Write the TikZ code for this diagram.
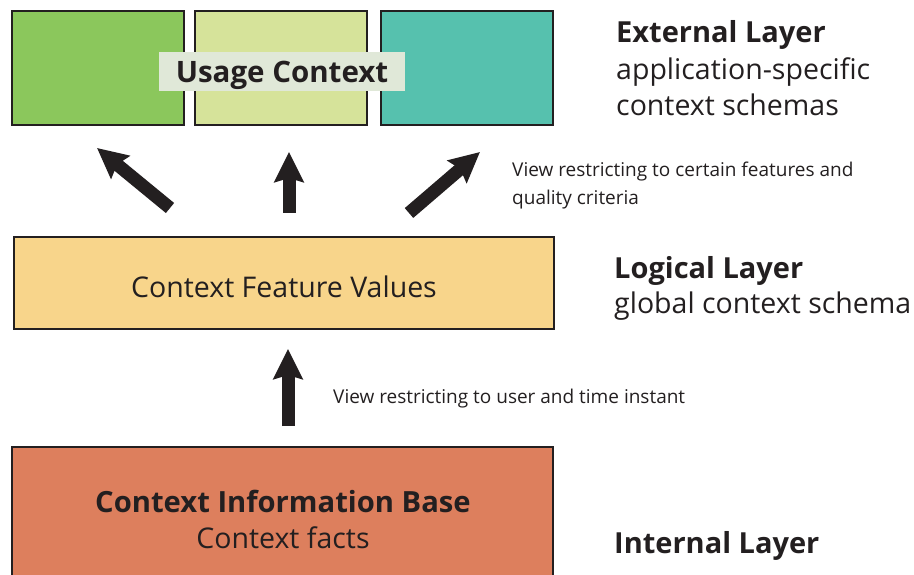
\documentclass[tikz,border=0pt]{standalone}
\usepackage{fontspec}
\setmainfont{Open Sans}
\usetikzlibrary{arrows.meta}

\definecolor{ink}{HTML}{231F20}
\definecolor{greenA}{HTML}{8BC75C}
\definecolor{greenB}{HTML}{D6E39A}
\definecolor{teal}{HTML}{56C1AE}
\definecolor{sand}{HTML}{F8D58B}
\definecolor{terra}{HTML}{DD7F5D}
\definecolor{patch}{HTML}{E0E8D8}

\newcommand{\fs}[1]{\fontsize{#1}{#1}\selectfont}

\tikzset{
  layerbox/.style={draw=ink, line width=1.6pt, inner sep=0pt},
  bigarrow/.style={draw=ink, line width=13pt,
    -{Stealth[length=30pt, width=29pt, inset=4pt]}},
  txt/.style={text=ink, inner sep=0pt},
  heading/.style={txt, anchor=base west, font=\fs{29}\bfseries},
  subline/.style={txt, anchor=base west, font=\fs{28.5}},
  note/.style={txt, anchor=base west, font=\fs{19}},
}

\begin{document}
\begin{tikzpicture}[x=1pt, y=-1pt]
\clip (0,0) rectangle (914,575);

% external layer: three application schemas
\node[layerbox, fill=greenA, minimum width=172pt, minimum height=114pt] (ext1) at (98,68) {};
\node[layerbox, fill=greenB, minimum width=172pt, minimum height=114pt] (ext2) at (281,68) {};
\node[layerbox, fill=teal,   minimum width=172pt, minimum height=114pt] (ext3) at (467,68) {};
\node[fill=patch, inner sep=0pt, minimum width=246pt, minimum height=39pt] (usagebg) at (282,71.5) {};
\node[txt, anchor=base, font=\fs{29.5}\bfseries] (usage) at (282,83) {Usage Context};

% logical layer
\node[layerbox, fill=sand, minimum width=540pt, minimum height=92pt] (logical) at (284,283) {};
\node[txt, anchor=base, font=\fs{28.5}] (cfv) at (284,297) {Context Feature Values};

% internal layer (runs off the bottom edge)
\node[layerbox, fill=terra, minimum width=541pt, minimum height=160pt] (internal) at (282.5,527) {};
\node[txt, anchor=base, font=\fs{29.2}\bfseries] (cib) at (283,512) {Context Information Base};
\node[txt, anchor=base, font=\fs{28.5}] (facts) at (283,548) {Context facts};

% view arrows
\coordinate (t1) at (170,208); \coordinate (h1) at (97,148);
\coordinate (t2) at (289,213); \coordinate (h2) at (289,152);
\coordinate (t3) at (409,213); \coordinate (h3) at (480,152);
\coordinate (t4) at (288,426); \coordinate (h4) at (288,349);
\draw[bigarrow] (t1) -- (h1);
\draw[bigarrow] (t2) -- (h2);
\draw[bigarrow] (t3) -- (h3);
\draw[bigarrow] (t4) -- (h4);

% arrow annotations
\node[note] (v1a) at (512,177) {View restricting to certain features and};
\node[note] (v1b) at (512,205) {quality criteria};
\node[note] (v2)  at (333,403) {View restricting to user and time instant};

% layer captions
\node[heading] (extT) at (616,43) {External Layer};
\node[subline] (extS1) at (616,80) {application-specific};
\node[subline] (extS2) at (616,116) {context schemas};
\node[heading] (logT) at (614,278) {Logical Layer};
\node[subline] (logS) at (614,313) {global context schema};
\node[heading] (intT) at (614,553) {Internal Layer};
\end{tikzpicture}
\end{document}
